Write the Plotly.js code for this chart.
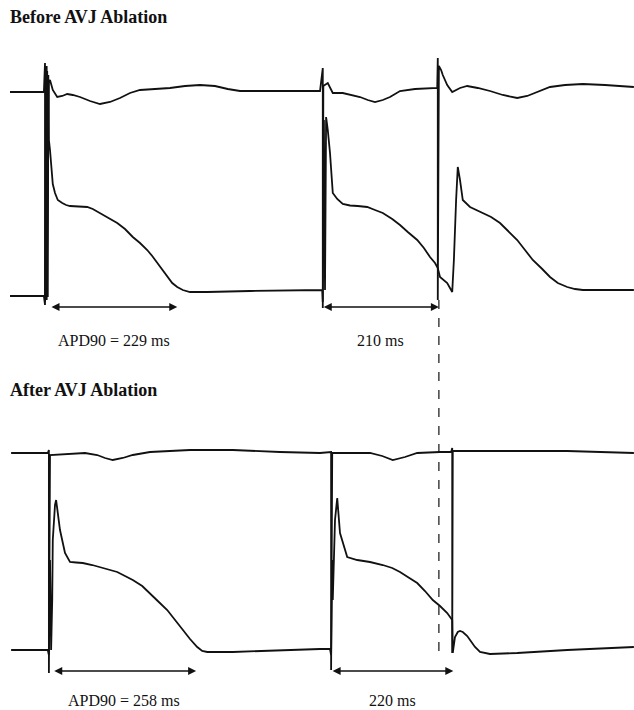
<!DOCTYPE html>
<html>
<head>
<meta charset="utf-8">
<script src="https://cdn.plot.ly/plotly-3.0.1.min.js"></script>
<style>html,body{margin:0;padding:0;background:#fff;}#chart{width:634px;height:710px;}</style>
</head>
<body>
<div id="chart"></div>
<script>
// ---------- DATA (time in ms, AP in mV, electrogram in mV) ----------
const beforeEcgT = [18, 79, 81, 81, 84, 84, 88, 90, 95, 103, 112, 121, 131, 144, 162, 180, 198, 216, 234, 252, 279, 306, 333, 360, 387, 410, 432, 576,
  581, 581, 582, 590, 599, 617, 634, 648, 662, 675, 689, 702, 720, 747, 787,
  788, 788, 790, 794, 797, 805, 814, 828, 841, 860, 882, 905, 931, 949, 963, 990, 1017, 1049, 1089, 1129, 1141];
const beforeEcgV = [0, 0, 1.45, -10.5, 1.3, -10.4, 0.5, 0.6, 0.1, -0.25, -0.2, -0.1, -0.15, -0.25, -0.45, -0.6, -0.5, -0.3, -0.05, 0.1, 0.15, 0.2, 0.3, 0.35, 0.3, 0.15, 0.05, 0.05,
  1.2, -10.8, 0.3, 0.45, -0.05, -0.05, -0.15, -0.25, -0.4, -0.5, -0.4, -0.25, 0.05, 0.15, 0.2,
  1.7, -10.4, 1.3, 1.1, 0.85, 0.35, 0, 0.2, 0.3, 0.2, 0.05, -0.15, -0.3, -0.2, -0.05, 0.25, 0.35, 0.4, 0.35, 0.25, 0.25];

const beforeApT = [18, 79, 81, 83, 84, 85, 86, 87, 88, 90, 92, 94, 95, 99, 104, 112, 119, 126, 140, 157, 167, 180, 194, 211, 225, 239, 252, 265, 274, 283, 292, 301, 310, 319, 329, 342, 373, 450, 576,
  580, 581, 583, 585, 587, 590, 594, 599, 607, 617, 630, 644, 661, 675, 689, 706, 720, 734, 751, 763, 774, 783, 788,
  792, 805, 814, 817, 821, 824, 828, 833, 846, 857, 869, 884, 900, 914, 931, 945, 959, 976, 990, 1004, 1021, 1035, 1049, 1141];
const beforeApV = [-85.5, -85.5, -90, 29.5, -85, 27, -86, 25, -7.5, -12.5, -18.5, -25, -29.5, -34, -37.5, -39, -40, -40.5, -40.75, -41, -42, -44, -46, -49, -52, -56, -59, -62.5, -65.5, -69, -72.5, -76, -79, -81, -82.5, -83.5, -83.5, -83, -82.5,
  -82.5, -88.5, 2.5, -82.5, 4, -2.5, -14, -34, -37, -39.5, -40.25, -40.5, -41, -42.5, -44, -47, -50, -53.5, -57.5, -61.5, -66, -69, -71.5,
  -76, -79, -83.5, -67.5, -37.5, -21, -27.5, -37.5, -41, -42.5, -44, -46, -49, -53, -57.5, -62.5, -67.5, -72, -76, -79, -81, -82, -82.5, -82.5];

const afterEcgT = [20, 86, 88, 88, 90, 153, 175, 189, 203, 221, 239, 270, 342, 419, 504, 576,
  596, 596, 598, 666, 688, 707, 729, 751, 792, 812, 814, 814, 815, 1021, 1141];
const afterEcgV = [0, 0, 0.15, -11, -0.1, 0, -0.1, -0.25, -0.35, -0.25, -0.1, 0.05, 0.15, 0.15, 0.05, 0,
  0.05, -10.85, 0, 0, -0.15, -0.35, -0.2, 0, 0.05, 0.05, 0.25, -10, 0.1, 0.1, 0];

const afterApT = [20, 86, 88, 90, 92, 94, 95, 99, 101, 104, 108, 117, 126, 137, 149, 166, 180, 194, 211, 225, 239, 256, 270, 284, 301, 315, 329, 342, 355, 364, 373, 419, 576,
  594, 596, 598, 599, 603, 607, 608, 612, 625, 643, 666, 689, 706, 720, 734, 751, 765, 779, 792, 805, 814,
  815, 819, 824, 828, 833, 841, 846, 855, 864, 882, 931, 1021, 1141];
const afterApV = [-85, -85, -87.5, -40, -85, -60, -30, -12.5, -10, -17.5, -25, -36.5, -41, -41.25, -41.5, -42.5, -43.5, -44.5, -46, -48, -50, -53, -56.5, -60.5, -65, -70, -75, -79.5, -83.5, -85.5, -86, -86, -84.5,
  -84.5, -87.5, -40, -60, -20, -9, -12.5, -26.5, -38.5, -40, -41, -42.5, -44, -46, -48.5, -51.5, -55.5, -60, -63, -66.5, -70,
  -86.5, -78.5, -76, -75.5, -76, -78, -80, -83.5, -86, -87, -86.5, -85, -83.5];

// stimulus times and measured intervals (ms)
const beforeStim = [90, 580];
const beforeDur = [229, 210];
const beforeLabels = ["APD90 = 229 ms", "210 ms"];
const afterStim = [95, 596];
const afterDur = [258, 220];
const afterLabels = ["APD90 = 258 ms", "220 ms"];
const panelTitles = ["Before AVJ Ablation", "After AVJ Ablation"];
const prematureTime = [790];

// ---------- LAYOUT CONSTANTS ----------
const W = 634, H = 710;
const MS_PER_PX = 1.8, PX_PER_MV = 2, PX_PER_ECG = 20;
const panels = [
  {domPx: [40, 350], apBase: 295, ecgBase: 92, arrowPx: 307, labelPx: 340, titlePx: 17},
  {domPx: [400, 710], apBase: 650, ecgBase: 453, arrowPx: 671, labelPx: 700, titlePx: 390}
];
const py = px => 1 - px / H;
const apVal = (p, px) => -85 + (p.apBase - px) / PX_PER_MV;
const ecgVal = (p, px) => (p.ecgBase - px) / PX_PER_ECG;

const lineStyle = {color: '#111', width: 1.8};
const traces = [
  {x: beforeEcgT, y: beforeEcgV, xaxis: 'x', yaxis: 'y2'},
  {x: beforeApT, y: beforeApV, xaxis: 'x', yaxis: 'y'},
  {x: afterEcgT, y: afterEcgV, xaxis: 'x', yaxis: 'y4'},
  {x: afterApT, y: afterApV, xaxis: 'x', yaxis: 'y3'}
].map(t => Object.assign(t, {type: 'scatter', mode: 'lines', line: lineStyle, hoverinfo: 'skip', showlegend: false}));

const hidden = {visible: false, showgrid: false, zeroline: false, fixedrange: true};
const layout = {
  width: W, height: H,
  margin: {l: 0, r: 0, t: 0, b: 0},
  paper_bgcolor: '#fff', plot_bgcolor: '#fff',
  showlegend: false,
  font: {family: 'Liberation Serif, Times New Roman, serif', color: '#111'},
  xaxis: Object.assign({range: [0, W * MS_PER_PX], anchor: 'y'}, hidden),
  yaxis: Object.assign({domain: [py(panels[0].domPx[1]), py(panels[0].domPx[0])],
    range: [apVal(panels[0], panels[0].domPx[1]), apVal(panels[0], panels[0].domPx[0])]}, hidden),
  yaxis2: Object.assign({overlaying: 'y',
    range: [ecgVal(panels[0], panels[0].domPx[1]), ecgVal(panels[0], panels[0].domPx[0])]}, hidden),
  yaxis3: Object.assign({domain: [py(panels[1].domPx[1]), py(panels[1].domPx[0])],
    range: [apVal(panels[1], panels[1].domPx[1]), apVal(panels[1], panels[1].domPx[0])]}, hidden),
  yaxis4: Object.assign({overlaying: 'y3',
    range: [ecgVal(panels[1], panels[1].domPx[1]), ecgVal(panels[1], panels[1].domPx[0])]}, hidden),
  annotations: [],
  shapes: [{
    type: 'line', xref: 'x', yref: 'paper',
    x0: prematureTime[0], x1: prematureTime[0], y0: py(300), y1: py(655),
    line: {color: '#111', width: 1.2, dash: 'dash'}
  }]
};

// panel titles
panels.forEach((p, i) => layout.annotations.push({
  xref: 'paper', yref: 'paper', x: 8 / W, y: py(p.titlePx), xanchor: 'left', yanchor: 'middle',
  text: '<b>' + panelTitles[i] + '</b>', showarrow: false,
  font: {size: 18, family: 'Liberation Serif, serif', color: '#111'}
}));

// interval arrows and labels
[[beforeStim, beforeDur, beforeLabels, 'y', panels[0]], [afterStim, afterDur, afterLabels, 'y3', panels[1]]]
.forEach(([stim, dur, labels, yref, p]) => {
  stim.forEach((s, i) => {
    const ya = apVal(p, p.arrowPx);
    layout.annotations.push({
      xref: 'x', yref: yref, axref: 'x', ayref: yref,
      x: s + dur[i], y: ya, ax: s, ay: ya,
      text: '', showarrow: true, arrowside: 'end+start',
      arrowhead: 2, arrowsize: 1, arrowwidth: 1.6, arrowcolor: '#111'
    });
    layout.annotations.push({
      xref: 'x', yref: yref, x: s + dur[i] / 2, y: apVal(p, p.labelPx),
      xanchor: 'center', yanchor: 'middle', text: labels[i], showarrow: false,
      font: {size: 16, family: 'Liberation Serif, serif', color: '#111'}
    });
  });
});

Plotly.newPlot('chart', traces, layout, {staticPlot: true, displayModeBar: false});
</script>
</body>
</html>
